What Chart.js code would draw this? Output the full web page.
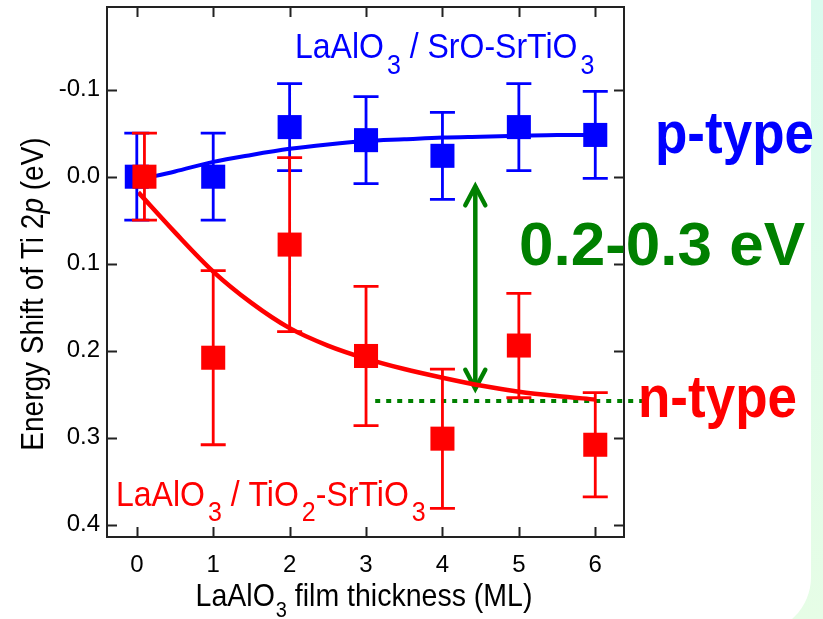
<!DOCTYPE html>
<html><head><meta charset="utf-8">
<script src="https://cdn.jsdelivr.net/npm/chart.js@4/dist/chart.umd.min.js"></script>
<style>html,body{margin:0;padding:0;background:#fff;overflow:hidden}canvas{display:block}</style>
</head><body>
<canvas id="c" width="823" height="619" style="width:823px;height:619px"></canvas>
<script>
// ---- data ----
const xTicks = [0, 1, 2, 3, 4, 5, 6];
const yTicks = [-0.1, 0.0, 0.1, 0.2, 0.3, 0.4];

// LaAlO3 / SrO-SrTiO3 (p-type)
const blueX = [0, 1, 2, 3, 4, 5, 6];
const blueY = [0.0, 0.0, -0.057, -0.042, -0.024, -0.057, -0.048];
const blueErr = [0.05, 0.05, 0.05, 0.05, 0.05, 0.05, 0.05];

// LaAlO3 / TiO2-SrTiO3 (n-type)
const redX = [0.1, 1, 2, 3, 4, 5, 6];
const redY = [0.0, 0.208, 0.078, 0.206, 0.301, 0.194, 0.308];
const redErr = [0.05, 0.1, 0.1, 0.08, 0.08, 0.06, 0.06];

// fitted guide curves (read at half-ML steps)
const blueFitX = [0.1, 0.5, 1, 1.5, 2, 2.5, 3, 3.5, 4, 4.5, 5, 5.5, 6];
const blueFitY = [0.002, -0.006, -0.017, -0.025, -0.032, -0.037, -0.041, -0.043, -0.045, -0.046, -0.047, -0.048, -0.048];
const redFitX = [0.02, 0.5, 1, 1.5, 2, 2.5, 3, 3.5, 4, 4.5, 5, 5.5, 6];
const redFitY = [0.018, 0.064, 0.109, 0.145, 0.174, 0.194, 0.209, 0.221, 0.231, 0.240, 0.247, 0.252, 0.256];

// annotations
const levelX = [3.12, 6.68];
const levelY = [0.2577, 0.2577];
const arrowX = [4.43, 4.43];
const arrowY = [0.011, 0.2437];

const BLUE = '#0000ff', RED = '#ff0000', GREEN = '#008000';
const FONT = "'Liberation Sans', Arial, Helvetica, sans-serif";
const pts = (xs, ys) => xs.map((x, i) => ({x: x, y: ys[i]}));

// ---- plugins ----
const bgPlugin = {
  id: 'bg',
  beforeDraw(chart) {
    const ctx = chart.ctx, W = chart.width, H = chart.height;
    ctx.save();
    const g = ctx.createLinearGradient(0, 0, 0, H);
    g.addColorStop(0, '#dafbee');
    g.addColorStop(1, '#e6fde6');
    ctx.fillStyle = g;
    ctx.fillRect(0, 0, W, H);
    ctx.fillStyle = '#ffffff';
    const x0 = -80, y0 = -80, x1 = 811, y1 = 633, r = 56;
    ctx.beginPath();
    ctx.moveTo(x0, y0);
    ctx.lineTo(x1, y0);
    ctx.lineTo(x1, y1 - r);
    ctx.arcTo(x1, y1, x1 - r, y1, r);
    ctx.lineTo(x0, y1);
    ctx.closePath();
    ctx.fill();
    ctx.restore();
  }
};

const framePlugin = {
  id: 'frame',
  beforeDatasetsDraw(chart) {
    const ctx = chart.ctx, a = chart.chartArea;
    const xs = chart.scales.x, ys = chart.scales.y;
    const L = 10;
    ctx.save();
    ctx.strokeStyle = '#222';
    ctx.lineWidth = 2;
    ctx.strokeRect(a.left, a.top, a.right - a.left, a.bottom - a.top);
    ctx.beginPath();
    xs.ticks.forEach(t => {
      const px = Math.round(xs.getPixelForValue(t.value)) + 0.5;
      ctx.moveTo(px, a.bottom); ctx.lineTo(px, a.bottom - L);
      ctx.moveTo(px, a.top); ctx.lineTo(px, a.top + L);
    });
    ys.ticks.forEach(t => {
      const py = Math.round(ys.getPixelForValue(t.value)) + 0.5;
      ctx.moveTo(a.left, py); ctx.lineTo(a.left + L, py);
      ctx.moveTo(a.right, py); ctx.lineTo(a.right - L, py);
    });
    ctx.stroke();
    ctx.restore();
  }
};

const errorPlugin = {
  id: 'errbars',
  beforeDatasetDraw(chart, args) {
    const ds = chart.data.datasets[args.index];
    if (!ds.errorBars) return;
    const ctx = chart.ctx, xs = chart.scales.x, ys = chart.scales.y;
    const cap = 12.5;
    ctx.save();
    ctx.strokeStyle = ds.backgroundColor;
    ctx.lineWidth = 2.8;
    ctx.beginPath();
    ds.data.forEach((p, i) => {
      const e = ds.errorBars[i];
      const px = xs.getPixelForValue(p.x);
      const y1 = ys.getPixelForValue(p.y - e);
      const y2 = ys.getPixelForValue(p.y + e);
      ctx.moveTo(px, y1); ctx.lineTo(px, y2);
      ctx.moveTo(px - cap, y1); ctx.lineTo(px + cap, y1);
      ctx.moveTo(px - cap, y2); ctx.lineTo(px + cap, y2);
    });
    ctx.stroke();
    ctx.restore();
  },
  afterDatasetDraw(chart, args) {
    const ds = chart.data.datasets[args.index];
    if (!ds.arrowHeads) return;
    const meta = chart.getDatasetMeta(args.index);
    const p0 = meta.data[0], p1 = meta.data[meta.data.length - 1];
    const ctx = chart.ctx;
    const hw = 10, hl = 19;
    ctx.save();
    ctx.strokeStyle = ds.borderColor;
    ctx.lineWidth = ds.borderWidth;
    ctx.lineCap = 'round';
    ctx.lineJoin = 'miter';
    const dir0 = p0.y < p1.y ? 1 : -1;
    ctx.beginPath();
    ctx.moveTo(p0.x - hw, p0.y + dir0 * hl); ctx.lineTo(p0.x, p0.y); ctx.lineTo(p0.x + hw, p0.y + dir0 * hl);
    ctx.moveTo(p1.x - hw, p1.y - dir0 * hl); ctx.lineTo(p1.x, p1.y); ctx.lineTo(p1.x + hw, p1.y - dir0 * hl);
    ctx.stroke();
    ctx.restore();
  }
};

function drawRich(ctx, pieces, x, baseline, align, stretch) {
  let total = 0;
  pieces.forEach(p => { ctx.font = p.font; p.w = ctx.measureText(p.text).width; total += p.w + (p.gap || 0); });
  let cx = align === 'center' ? x - total / 2 : x;
  pieces.forEach(p => {
    cx += (p.gap || 0);
    ctx.save();
    ctx.font = p.font;
    ctx.translate(cx, baseline + (p.dy || 0));
    ctx.scale(1, stretch);
    ctx.textBaseline = 'alphabetic';
    ctx.textAlign = 'left';
    ctx.fillText(p.text, 0, 0);
    ctx.restore();
    cx += p.w;
  });
}

const textPlugin = {
  id: 'texts',
  afterDraw(chart) {
    const ctx = chart.ctx;
    const f = (s, w, st) => (st || '') + ' ' + (w || '') + ' ' + s + 'px ' + FONT;
    ctx.save();
    // y axis title
    ctx.fillStyle = '#000';
    ctx.save();
    ctx.translate(43, 294);
    ctx.rotate(-Math.PI / 2);
    drawRich(ctx, [
      {text: 'Energy Shift of Ti 2', font: f(28)},
      {text: 'p', font: f(28, '', 'italic')},
      {text: ' (eV)', font: f(28)}
    ], 0, 0, 'center', 1.14);
    ctx.restore();
    // x axis title
    drawRich(ctx, [
      {text: 'LaAlO', font: f(28.5)},
      {text: '3', font: f(20), dy: 11, gap: 1},
      {text: ' film thickness (ML)', font: f(28.5)}
    ], 364, 606, 'center', 1.08);
    // series labels
    ctx.fillStyle = BLUE;
    drawRich(ctx, [
      {text: 'LaAlO', font: f(32)},
      {text: '3', font: f(25), dy: 16, gap: 3},
      {text: ' / SrO-SrTiO', font: f(32)},
      {text: '3', font: f(25), dy: 16, gap: 3}
    ], 295, 57.5, 'left', 1.12);
    ctx.fillStyle = RED;
    drawRich(ctx, [
      {text: 'LaAlO', font: f(32)},
      {text: '3', font: f(25), dy: 15, gap: 3},
      {text: ' / TiO', font: f(32)},
      {text: '2', font: f(25), dy: 15, gap: 3},
      {text: '-SrTiO', font: f(32)},
      {text: '3', font: f(25), dy: 15, gap: 3}
    ], 116, 506, 'left', 1.12);
    // type labels
    ctx.fillStyle = BLUE;
    drawRich(ctx, [{text: 'p-type', font: f(53, 'bold')}], 655, 152.5, 'left', 1.12);
    ctx.fillStyle = RED;
    drawRich(ctx, [{text: 'n-type', font: f(53, 'bold')}], 638, 417, 'left', 1.12);
    ctx.fillStyle = GREEN;
    drawRich(ctx, [{text: '0.2-0.3 eV', font: f(62, 'bold')}], 519, 265, 'left', 1.0);
    ctx.restore();
  }
};

Chart.defaults.font.family = FONT;
Chart.defaults.color = '#000';

new Chart(document.getElementById('c'), {
  type: 'scatter',
  data: {
    datasets: [
      {label: 'LaAlO3 / TiO2-SrTiO3', data: pts(redX, redY), errorBars: redErr,
       backgroundColor: RED, borderColor: RED, borderWidth: 0, pointStyle: 'rect', pointRadius: 17, showLine: false, order: 0},
      {label: 'LaAlO3 / SrO-SrTiO3', data: pts(blueX, blueY), errorBars: blueErr,
       backgroundColor: BLUE, borderColor: BLUE, borderWidth: 0, pointStyle: 'rect', pointRadius: 17, showLine: false, order: 1},
      {label: 'p-type fit', data: pts(blueFitX, blueFitY), showLine: true, borderColor: BLUE, backgroundColor: BLUE,
       borderWidth: 4, pointRadius: 0, cubicInterpolationMode: 'monotone', order: 2},
      {label: 'n-type fit', data: pts(redFitX, redFitY), showLine: true, borderColor: RED, backgroundColor: RED,
       borderWidth: 4.5, pointRadius: 0, cubicInterpolationMode: 'monotone', order: 3},
      {label: 'shift', data: pts(arrowX, arrowY), showLine: true, borderColor: GREEN, backgroundColor: GREEN,
       borderWidth: 4.5, pointRadius: 0, arrowHeads: true, order: 4},
      {label: 'n-type level', data: pts(levelX, levelY), showLine: true, borderColor: GREEN, backgroundColor: GREEN,
       borderWidth: 4, borderDash: [5, 6], pointRadius: 0, clip: false, order: 5}
    ]
  },
  options: {
    responsive: false,
    devicePixelRatio: 1,
    animation: false,
    events: [],
    layout: {autoPadding: false, padding: {left: 0, right: 199, top: 7, bottom: 0}},
    plugins: {legend: {display: false}, tooltip: {enabled: false}},
    scales: {
      x: {
        type: 'linear', position: 'bottom', min: -0.39, max: 6.376,
        grid: {display: false, drawTicks: false}, border: {display: false},
        ticks: {font: {size: 24}, color: '#000', padding: 14, maxRotation: 0, callback: v => String(v)},
        afterBuildTicks: s => { s.ticks = xTicks.map(v => ({value: v})); },
        afterFit: s => { s.height = 82; s.paddingLeft = 0; s.paddingRight = 0; }
      },
      y: {
        type: 'linear', position: 'left', reverse: true, min: -0.195, max: 0.414,
        grid: {display: false, drawTicks: false}, border: {display: false},
        ticks: {font: {size: 24}, color: '#000', padding: 7, callback: v => Number(v).toFixed(1)},
        afterBuildTicks: s => { s.ticks = yTicks.map(v => ({value: v})); },
        afterFit: s => { s.width = 107; s.paddingTop = 0; s.paddingBottom = 0; }
      }
    }
  },
  plugins: [bgPlugin, framePlugin, errorPlugin, textPlugin]
});
</script>
</body></html>
